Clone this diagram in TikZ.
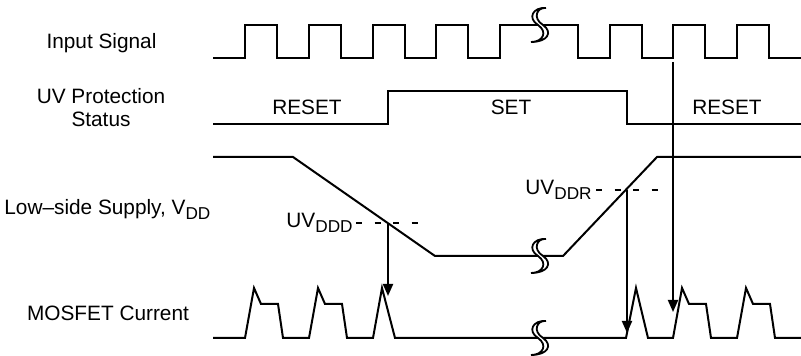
\documentclass[tikz,border=0pt]{standalone}
\usepackage{fontspec}
\setmainfont{Liberation Sans}
\usetikzlibrary{arrows.meta}
\newcommand{\lsub}[1]{\raisebox{-2.5pt}{\fontsize{8.6}{9}\selectfont #1}}

\begin{document}
\begin{tikzpicture}[
    x=0.5pt, y=-0.5pt,
    every node/.style={font=\fontsize{10.4}{11.5}\selectfont, inner sep=0pt},
    wave/.style={line width=1pt},
    level/.style={line width=1pt, dash pattern=on 3pt off 6.25pt},
    trig/.style={-{Triangle[length=6pt,width=5pt]}, line width=1pt},
    brk/.pic={
      \filldraw[fill=white, line width=0.9pt]
        (8,-17) .. controls (-5,-18) and (-11,-7) .. (0,0)
                .. controls (10,7) and (5,17) .. (-7,17)
                .. controls (10,17) and (15,7) .. (5,0)
                .. controls (-6,-7) and (-1,-18) .. (8,-17) -- cycle;
    },
  ]
  \useasboundingbox (0,0) rectangle (801,356);

  % row labels
  \node[anchor=base] (insig) at (101.5,49) {Input Signal};
  \node[align=center] (uvstat) at (101,108) {UV Protection\\Status};
  \node[anchor=base west] (vdd) at (4,215) {Low–side Supply, V\lsub{DD}};
  \node[anchor=base] (mosi) at (108,321) {MOSFET Current};

  % input signal
  \draw[wave] (213,58)
    \foreach \r in {245,309,373,436} {-- (\r,58) -- (\r,25) -- (\r+32,25) -- (\r+32,58)}
    -- (500,58) -- (500,25) -- (578,25) -- (578,58)
    \foreach \r in {610,673,737} {-- (\r,58) -- (\r,25) -- (\r+32,25) -- (\r+32,58)}
    -- (801,58);

  % protection status
  \draw[wave] (213,124) -- (388,124) -- (388,91) -- (627,91) -- (627,124) -- (801,124);
  \node[anchor=base] (rst1) at (307,115) {RESET};
  \node[anchor=base] (setst) at (511,115) {SET};
  \node[anchor=base] (rst2) at (727,115) {RESET};

  % supply
  \draw[wave] (213,157) -- (293,157) -- (435,256) -- (563,256) -- (657,157) -- (801,157);
  \draw[level] (356,223) -- (419,223);
  \draw[level] (596,190) -- (658,190);
  \node[anchor=base east] (lddd) at (353,228) {UV\lsub{DDD}};
  \node[anchor=base east] (lddr) at (592,195) {UV\lsub{DDR}};

  % mosfet current
  \draw[wave] (213,338)
    \foreach \s in {245,309} {-- (\s,338) -- (\s+9,288) -- (\s+16,304) -- (\s+33,304) -- (\s+38,338)}
    -- (373,338) -- (382,288) -- (395,338) -- (626,338) -- (636,288) -- (648,338)
    \foreach \s in {673,737} {-- (\s,338) -- (\s+9,288) -- (\s+16,304) -- (\s+33,304) -- (\s+38,338)}
    -- (801,338);

  % breaks
  \pic at (538,25) {brk};
  \pic at (538,256) {brk};
  \pic at (538,338) {brk};

  % trigger arrows
  \coordinate (ddd) at (388,223);
  \coordinate (dddhit) at (388,296);
  \coordinate (ddr) at (627,190);
  \coordinate (ddrhit) at (627,333);
  \coordinate (inrise) at (673,62);
  \coordinate (inhit) at (673,312);
  \draw[trig] (ddd) -- (dddhit);
  \draw[trig] (ddr) -- (ddrhit);
  \draw[trig] (inrise) -- (inhit);
\end{tikzpicture}
\end{document}
